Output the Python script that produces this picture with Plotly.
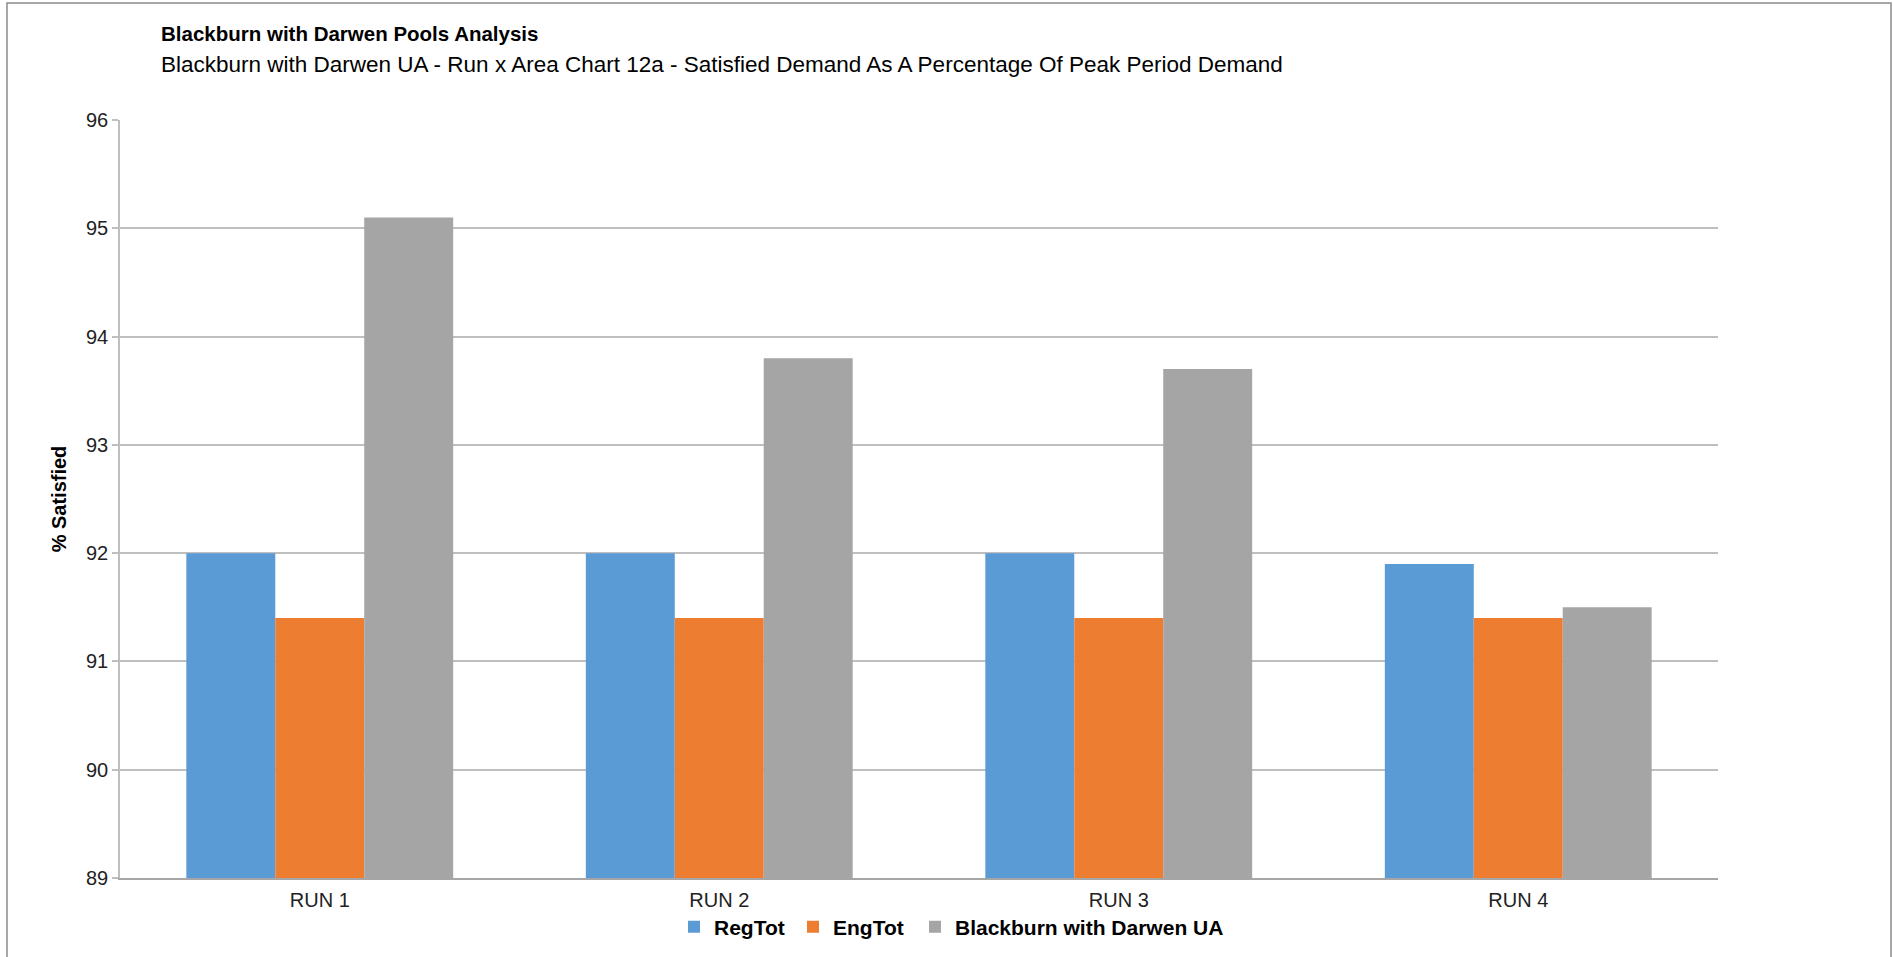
import plotly.graph_objects as go

# Chart data
runs = ["RUN 1", "RUN 2", "RUN 3", "RUN 4"]
reg_tot = [92.0, 92.0, 92.0, 91.9]
eng_tot = [91.4, 91.4, 91.4, 91.4]
bwd_ua = [95.1, 93.8, 93.7, 91.5]
y_ticks = [89, 90, 91, 92, 93, 94, 95, 96]

series = [
    ("RegTot", reg_tot, "#5B9BD5"),
    ("EngTot", eng_tot, "#ED7D31"),
    ("Blackburn with Darwen UA", bwd_ua, "#A5A5A5"),
]

W, H = 1893, 957
L, R, T, B = 120, 1718, 120, 878  # plot area edges in pixels
pw, ph = R - L, B - T

def px(x):
    return (x - L) / pw

def py(y):
    return (B - y) / ph

FONT = "Liberation Sans, Arial, sans-serif"

# each series gets its own legend box so the entries can be spaced freely
legend_ids = ["legend", "legend2", "legend3"]
legend_left = [674, 793, 915]

fig = go.Figure()
for (name, vals, col), lid in zip(series, legend_ids):
    fig.add_trace(go.Bar(
        x=runs, y=vals, name=name, legend=lid,
        marker=dict(color=col, line=dict(width=0)),
    ))

legend_style = dict(
    orientation="h", xanchor="left", xref="container",
    y=1 - 927 / H, yanchor="middle", yref="container",
    font=dict(family=FONT, size=21, color="#000000", weight="bold"),
    itemwidth=30, tracegroupgap=0, bgcolor="rgba(0,0,0,0)",
)

fig.update_layout(
    width=W, height=H,
    margin=dict(l=L, r=W - R, t=T, b=H - B, autoexpand=False),
    paper_bgcolor="white", plot_bgcolor="white",
    barmode="group", bargap=0.332, bargroupgap=0,
    font=dict(family=FONT, color="#000000", size=20),
    showlegend=True,
    legend=dict(x=legend_left[0] / W, **legend_style),
    legend2=dict(x=legend_left[1] / W, **legend_style),
    legend3=dict(x=legend_left[2] / W, **legend_style),
    xaxis=dict(
        showgrid=False, showline=True, linecolor="#A6A6A6", linewidth=1.5,
        ticks="", tickfont=dict(size=20, color="#222222"),
        ticklabelstandoff=3,
    ),
    yaxis=dict(
        range=[89, 96], tickvals=y_ticks, showgrid=True,
        gridcolor="#BFBFBF", gridwidth=1.5,
        showline=True, linecolor="#BFBFBF", linewidth=1.5,
        ticks="outside", ticklen=6, tickcolor="#BFBFBF", tickwidth=1.5,
        tickfont=dict(size=20, color="#222222"),
        zeroline=False,
        title=dict(text="% Satisfied", font=dict(size=20, weight="bold", color="#000000"), standoff=14),
    ),
    annotations=[
        dict(text="<b>Blackburn with Darwen Pools Analysis</b>", xref="paper", yref="paper",
             x=px(159), y=py(33), xanchor="left", yanchor="middle", showarrow=False,
             font=dict(family=FONT, size=20.5, color="#000000")),
        dict(text="Blackburn with Darwen UA - Run x Area Chart 12a - Satisfied Demand As A Percentage Of Peak Period Demand",
             xref="paper", yref="paper",
             x=px(159), y=py(64), xanchor="left", yanchor="middle", showarrow=False,
             font=dict(family=FONT, size=22.5, color="#000000")),
    ],
    shapes=[
        dict(type="rect", xref="paper", yref="paper",
             x0=px(7), x1=px(1891), y0=py(960), y1=py(3),
             line=dict(color="#8C8C8C", width=1.5), fillcolor="rgba(0,0,0,0)", layer="below"),
    ],
)

fig.write_html("out.html")
